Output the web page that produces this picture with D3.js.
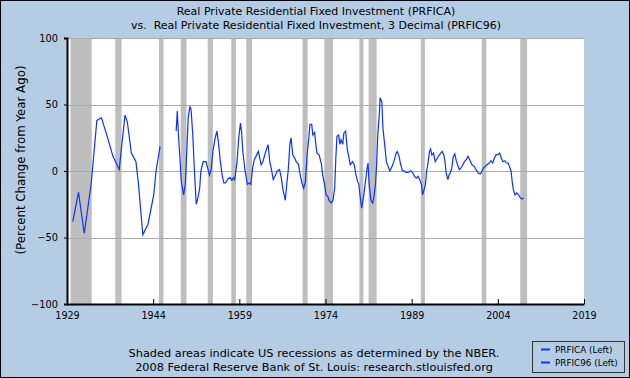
<!DOCTYPE html>
<html>
<head>
<meta charset="utf-8">
<script src="https://cdn.jsdelivr.net/npm/d3@7"></script>
<style>
body{margin:0;padding:0;background:#B4CDE5;}
svg{display:block;font-family:"DejaVu Sans",Verdana,sans-serif;}
text{white-space:pre;}
</style>
</head>
<body>
<svg id="chart" width="630" height="378"></svg>
<script>
// ---- data ----
const titleLines = ["Real Private Residential Fixed Investment (PRFICA)",
  "vs.  Real Private Residential Fixed Investment, 3 Decimal (PRFIC96)"];
const yLabel = "(Percent Change from Year Ago)";
const xTicks = [1929, 1944, 1959, 1974, 1989, 2004, 2019];
const yTicks = [-100, -50, 0, 50, 100];
const footer = ["Shaded areas indicate US recessions as determined by the NBER.",
  "2008 Federal Reserve Bank of St. Louis: research.stlouisfed.org"];
const legendLabels = ["PRFICA (Left)", "PRFIC96 (Left)"];

// recessions [start, end] as decimal years
const recStart = [1929.6,1937.4,1945.0,1948.8,1953.5,1957.6,1960.2,1970.0,1973.8,1979.9,1981.5,1990.6,2001.2,2007.9];
const recEnd   = [1933.3,1938.5,1945.8,1949.8,1954.4,1958.4,1961.2,1970.9,1975.3,1980.6,1982.9,1991.3,2002.0,2009.1];

// early (annual) segment
const earlyYears  = [1930,1931,1932,1933.2,1934.2,1935,1936,1937,1938.1,1938.4,1939.1,1939.5,1940.2,1941,1941.4,1942.2,1943.1,1944.1,1944.5,1945.2];
const earlyValues = [-38,-16,-47,-10,38,40,26,11,1,14,42,37,13.5,7,-8,-48,-40,-18,0,18.5];

// quarterly segment
const qYears = [1948.0,1948.2,1948.4,1948.7,1948.9,1949.3,1949.6,1949.9,1950.1,1950.4,1950.6,1950.9,1951.2,1951.5,1951.8,1952.1,1952.3,1952.7,1953.2,1953.5,1953.8,1954.1,1954.4,1954.8,1955.1,1955.4,1955.7,1956.0,1956.3,1956.6,1957.0,1957.4,1957.7,1958.0,1958.2,1958.6,1958.9,1959.2,1959.4,1959.6,1960.0,1960.4,1960.8,1961.0,1961.3,1961.6,1961.9,1962.3,1962.5,1962.8,1963.1,1963.6,1964.0,1964.3,1964.6,1964.9,1965.2,1965.6,1966.0,1966.3,1966.6,1966.8,1967.0,1967.3,1967.5,1967.8,1968.0,1968.3,1968.6,1968.9,1969.3,1969.6,1969.9,1970.2,1970.5,1970.8,1971.1,1971.3,1971.6,1971.8,1972.1,1972.3,1972.5,1972.9,1973.3,1973.5,1973.8,1974.1,1974.4,1974.6,1975.0,1975.3,1975.6,1975.8,1976.0,1976.3,1976.5,1976.7,1977.0,1977.2,1977.5,1977.8,1978.0,1978.3,1978.7,1979.0,1979.3,1979.6,1979.8,1980.0,1980.3,1980.6,1980.9,1981.2,1981.4,1981.6,1981.9,1982.2,1982.4,1982.7,1982.9,1983.1,1983.4,1983.5,1983.8,1984.0,1984.3,1984.6,1984.9,1985.2,1985.6,1986.0,1986.3,1986.5,1986.8,1987.1,1987.4,1987.6,1988.0,1988.5,1988.9,1989.2,1989.5,1989.8,1990.1,1990.4,1990.7,1990.9,1991.1,1991.4,1991.6,1991.8,1992.1,1992.3,1992.5,1992.8,1993.1,1993.5,1993.8,1994.3,1994.6,1994.8,1995.0,1995.3,1995.5,1995.7,1996.0,1996.2,1996.5,1996.8,1997.0,1997.3,1997.6,1997.9,1998.2,1998.5,1998.8,1999.1,1999.5,1999.9,2000.2,2000.6,2000.9,2001.1,2001.5,2001.8,2002.1,2002.5,2002.8,2003.1,2003.4,2003.7,2004.0,2004.3,2004.6,2004.9,2005.2,2005.5,2005.8,2006.0,2006.3,2006.5,2006.7,2007.0,2007.3,2007.6,2007.9,2008.2,2008.5];
const qValues = [30,45,27,7,-8,-18,-10,20,40,48.6,46,27,-1.5,-25,-20,-13,0,7,7,2,-3,1,15,25,30,20,7,-3,-9,-9,-6,-5,-7,-5,-6.5,7,25,36,29,15,0,-10,-9,-10,2,8.5,11,14.7,11,4.7,7,14.7,19.8,7,1,-6.5,-4,0,1,-5,-14,-18,-22,-8,0,20,25,12,10,7,5,-3,-9,-13,-8,12,25,35,35,27,29,21,13.5,12,5,-3,-9,-18,-19,-22,-24,-22,-13,10,26,27,20,23.5,20,28.6,30,16,12,4.7,7,4.7,-3,-8,-10,-18,-28,-20,-10,1,6,-10,-22,-24,-20,-10,5,27,45,55,52,32,20,7,3.5,0,3.5,8.5,13.5,14.7,11,4.7,0.2,0.2,-1,-0.8,0.2,-1.5,-4,-5.3,-4,-6.5,-10,-18,-15,-10,0,4.7,14.7,16.5,12,13.5,7,10,12,14.7,12,7,-1.5,-6.5,-3,-1.5,2.3,10,12.8,7,4.7,1,2.3,4.7,7,8.5,11,8.5,4.7,3.5,1,-1.5,-2.3,-1.5,2.3,3.5,4.7,6,7.7,6,9.8,12.3,12.3,13.5,9.8,7,7.7,6,6,3.5,0,-8,-14,-18,-16.5,-18,-20,-21,-20.3];

// ---- drawing ----
const svg = d3.select("#chart");
const W = 630, H = 378;
const m = {left: 67, right: 584, top: 38, bottom: 304};
const bg = "#B4CDE5";
const lineColor = "#0A33FF";

svg.append("rect").attr("x",0.5).attr("y",0.5).attr("width",W-1).attr("height",H-1)
  .attr("fill",bg).attr("stroke","#000").attr("stroke-width",1);

const x = d3.scaleLinear().domain([1929, 2019]).range([m.left, m.right]);
const y = d3.scaleLinear().domain([-100, 100]).range([m.bottom, m.top]);

// plot bg
svg.append("rect").attr("x",m.left).attr("y",m.top).attr("width",m.right-m.left).attr("height",m.bottom-m.top).attr("fill","#fff");

// recessions
svg.append("g").selectAll("rect").data(d3.range(recStart.length)).join("rect")
  .attr("x", i => x(recStart[i])).attr("width", i => x(recEnd[i]) - x(recStart[i]))
  .attr("y", m.top).attr("height", m.bottom - m.top).attr("fill", "#BEBEBE");

// gridlines
svg.append("g").selectAll("line").data(yTicks.filter(d => d > -100)).join("line")
  .attr("x1", m.left).attr("x2", m.right).attr("y1", d => Math.round(y(d))+0.5).attr("y2", d => Math.round(y(d))+0.5)
  .attr("stroke", "#AAAAAA").attr("stroke-width", 1);

// lines
const line = d3.line().x(d => x(d[0])).y(d => y(d[1]));
const early = earlyYears.map((d,i) => [d, earlyValues[i]]);
const q = qYears.map((d,i) => [d, qValues[i]]);
[early, q].forEach(seg => {
  svg.append("path").attr("d", line(seg)).attr("fill","none").attr("stroke",lineColor).attr("stroke-width",1.2);
});

// axes
const yAxis = d3.axisLeft(y).tickValues(yTicks).tickSize(3).tickPadding(6);
const gy = svg.append("g").attr("transform",`translate(${m.left},0)`).call(yAxis);
gy.select(".domain").attr("stroke","#000").attr("stroke-width",2);
gy.selectAll(".tick text").attr("font-size",9.8).attr("fill","#000").attr("font-family","DejaVu Sans");

const xAxis = d3.axisBottom(x).tickValues(xTicks).tickFormat(d3.format("d")).tickSizeInner(-5).tickSizeOuter(0).tickPadding(8);
const gx = svg.append("g").attr("transform",`translate(0,${m.bottom})`).call(xAxis);
gx.select(".domain").attr("stroke","#000").attr("stroke-width",2);
gx.selectAll(".tick text").attr("font-size",9.6).attr("fill","#000").attr("font-family","DejaVu Sans");

// title
svg.append("g").selectAll("text").data(titleLines).join("text")
  .attr("x", 316).attr("y", (d,i) => 15 + i*13.5).attr("text-anchor","middle")
  .attr("font-size", 11).attr("fill","#000").text(d => d);

// y label
svg.append("text").attr("transform","translate(25,160) rotate(-90)").attr("text-anchor","middle")
  .attr("font-size",11.8).attr("fill","#000").text(yLabel);

// footer
svg.append("g").selectAll("text").data(footer).join("text")
  .attr("x", 314).attr("y", (d,i) => 357 + i*14).attr("text-anchor","middle")
  .attr("font-size", 11.3).attr("fill","#000").text(d => d);

// legend
const lg = svg.append("g");
lg.append("rect").attr("x",532.5).attr("y",341.5).attr("width",92).attr("height",31)
  .attr("fill",bg).attr("stroke","#333").attr("stroke-width",1);
legendLabels.forEach((t,i) => {
  const yy = 349.5 + i*13;
  lg.append("line").attr("x1",541).attr("x2",550).attr("y1",yy).attr("y2",yy).attr("stroke",lineColor).attr("stroke-width",2);
  lg.append("text").attr("x",555).attr("y",yy+3).attr("font-size",8.8).attr("fill","#000").text(t);
});
</script>
</body>
</html>
